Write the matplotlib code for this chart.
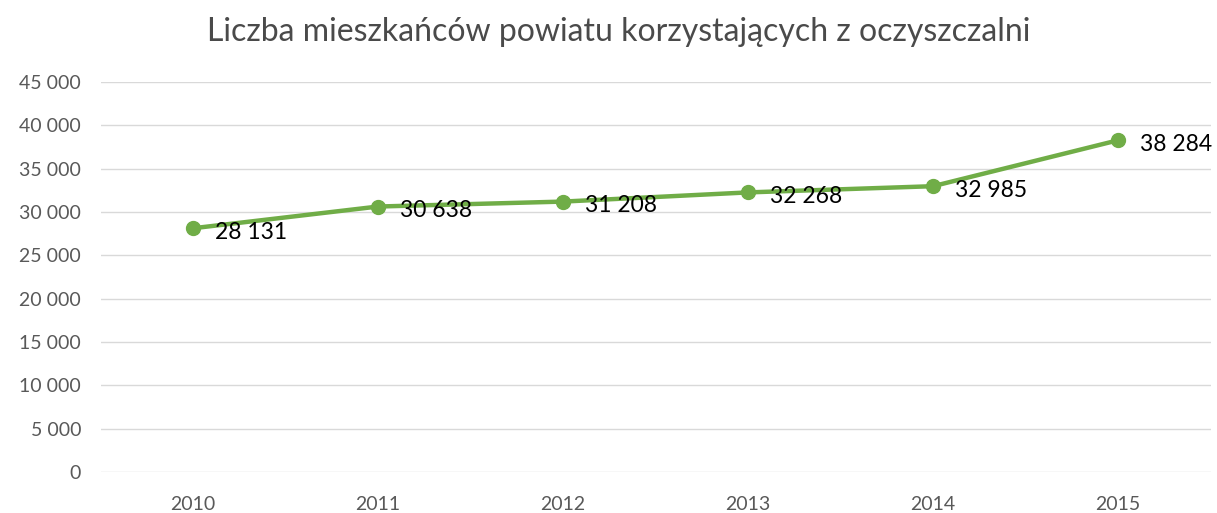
import matplotlib
matplotlib.use("Agg")
import matplotlib.pyplot as plt
from matplotlib.ticker import FuncFormatter, MultipleLocator

years = ["2010", "2011", "2012", "2013", "2014", "2015"]
residents = [28131, 30638, 31208, 32268, 32985, 38284]

title = "Liczba mieszkańców powiatu korzystających z oczyszczalni"


def spaced(v):
    return f"{int(v):,}".replace(",", " ")


plt.rcParams['font.family'] = ['Lato', 'DejaVu Sans']

fig = plt.figure(figsize=(12.17, 5.13), dpi=100)
ax = fig.add_axes([0.0826, 0.0799, 0.9121, 0.7601])

x = list(range(len(years)))
ax.plot(x, residents, color='#70AD47', linewidth=3.2, marker='o',
        markersize=10, solid_capstyle='round', zorder=3)

# data labels to the right of each point
for xi, v in zip(x, residents):
    ax.annotate(spaced(v), (xi, v), xytext=(16, -3), textcoords='offset points',
                ha='left', va='center', fontsize=16.5, color='black', zorder=4)

ax.set_xlim(-0.5, len(years) - 0.5)
ax.set_ylim(0, 45000)
ax.yaxis.set_major_locator(MultipleLocator(5000))
ax.yaxis.set_major_formatter(FuncFormatter(lambda v, p: spaced(v)))
ax.set_xticks(x)
ax.set_xticklabels(years)

ax.grid(axis='y', color='#D9D9D9', linewidth=1)
ax.set_axisbelow(True)
for s in ax.spines.values():
    s.set_visible(False)
ax.tick_params(axis='both', length=0, labelsize=14, colors='#595959')
ax.tick_params(axis='y', pad=14)
# years sit right at the bottom edge (clipped in the original), keep them readable
ax.tick_params(axis='x', pad=17)

fig.text(0.508, 0.937, title, ha='center', va='center', fontsize=23,
         color='#4a4a4a')

fig.savefig("out.png", dpi=100)
